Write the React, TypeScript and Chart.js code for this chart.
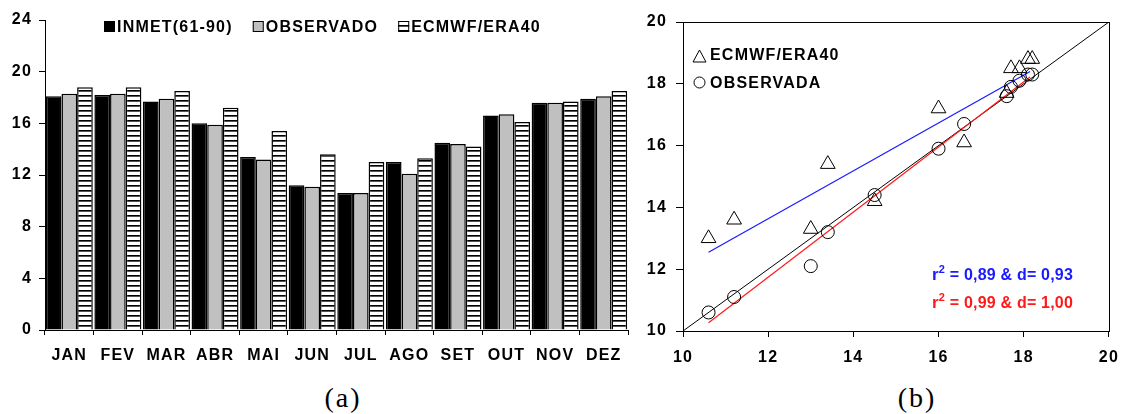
import React, { useEffect, useRef } from 'react';
import { Chart, registerables } from 'chart.js';

Chart.register(...registerables);

// ---------- data ----------
const MONTHS = ['JAN', 'FEV', 'MAR', 'ABR', 'MAI', 'JUN', 'JUL', 'AGO', 'SET', 'OUT', 'NOV', 'DEZ'];
const INMET = [18.1, 18.2, 17.7, 16.0, 13.4, 11.2, 10.6, 13.0, 14.5, 16.6, 17.6, 17.9];
const OBSERVADO = [18.3, 18.3, 17.9, 15.9, 13.2, 11.1, 10.6, 12.1, 14.4, 16.7, 17.6, 18.1];
const ERA40 = [18.8, 18.8, 18.5, 17.2, 15.4, 13.6, 13.0, 13.3, 14.2, 16.1, 17.7, 18.5];

const BAR_NAMES = ['INMET(61-90)', 'OBSERVADO', 'ECMWF/ERA40'];
const SCATTER_NAMES = ['ECMWF/ERA40', 'OBSERVADA'];

const BAR_Y_MIN = 0;
const BAR_Y_MAX = 24;
const BAR_Y_STEP = 4;
const SC_MIN = 10;
const SC_MAX = 20;
const SC_STEP = 2;

const FIT_ERA_X = [10.6, 18.15];
const FIT_ERA_Y = [12.55, 18.4];
const FIT_OBS_X = [10.6, 18.15];
const FIT_OBS_Y = [10.27, 18.22];
const IDENTITY = [10, 20];

const STAT_ERA = ['0,89', '0,93'];
const STAT_OBS = ['0,99', '1,00'];
const PANEL_LABELS = ['(a)', '(b)'];

// ---------- styles ----------
const FONT = "'Liberation Sans', Arial, Helvetica, sans-serif";
const GRAY = '#c0c0c0';
const BLUE = '#1a1aff';
const RED = '#ff1a1a';

function makeHatch(): CanvasPattern | string {
  const c = document.createElement('canvas');
  c.width = 4;
  c.height = 5;
  const g = c.getContext('2d');
  if (!g) return '#fff';
  g.fillStyle = '#fff';
  g.fillRect(0, 0, 4, 5);
  g.fillStyle = '#000';
  g.fillRect(0, 0, 4, 1);
  g.fillStyle = '#555';
  g.fillRect(0, 1, 4, 1);
  const p = g.createPattern(c, 'repeat');
  return p || '#fff';
}

const spacingPlugin = (px: number) => ({
  id: 'spacing',
  beforeUpdate(chart: any) {
    chart.ctx.letterSpacing = px + 'px';
  },
  beforeDraw(chart: any) {
    chart.ctx.letterSpacing = px + 'px';
  },
});

const tickFont = { family: FONT, size: 16, weight: 'bold' as const };

export default function App() {
  const refA = useRef<HTMLCanvasElement>(null);
  const refB = useRef<HTMLCanvasElement>(null);

  useEffect(() => {
    const hatch = makeHatch();

    const legendA = {
      id: 'legendA',
      afterDraw(chart: any) {
        const ctx = chart.ctx;
        ctx.save();
        ctx.letterSpacing = '1.2px';
        ctx.font = `bold 16px ${FONT}`;
        ctx.textBaseline = 'alphabetic';
        let x = 104;
        chart.data.datasets.forEach((ds: any) => {
          ctx.fillStyle = ds.backgroundColor;
          ctx.fillRect(x, 21, 11, 11);
          ctx.strokeStyle = '#000';
          ctx.lineWidth = 1;
          ctx.strokeRect(x + 0.5, 21.5, 10, 10);
          ctx.fillStyle = '#000';
          ctx.fillText(ds.label, x + 13, 32);
          x += 13 + ctx.measureText(ds.label).width + 20;
        });
        ctx.restore();
      },
    };

    const chartA = new Chart(refA.current!, {
      type: 'bar',
      data: {
        labels: MONTHS,
        datasets: [
          { label: BAR_NAMES[0], data: INMET, backgroundColor: '#000', borderColor: '#000', borderWidth: 1.5 },
          { label: BAR_NAMES[1], data: OBSERVADO, backgroundColor: GRAY, borderColor: '#000', borderWidth: 1.5 },
          { label: BAR_NAMES[2], data: ERA40, backgroundColor: hatch as any, borderColor: '#000', borderWidth: 1.5 },
        ],
      },
      options: {
        animation: false,
        responsive: false,
        events: [],
        layout: { padding: { left: 0, top: 20, right: 17, bottom: 0 } },
        datasets: { bar: { categoryPercentage: 0.967, barPercentage: 1 } } as any,
        plugins: { legend: { display: false }, tooltip: { enabled: false } },
        scales: {
          x: {
            grid: { display: true, drawOnChartArea: false, drawTicks: true, tickLength: 5, color: '#000', offset: true },
            border: { display: true, color: '#000', width: 1 },
            ticks: { color: '#000', font: tickFont, padding: 11, autoSkip: false, maxRotation: 0 },
            afterFit: (s: any) => { s.height = 50; },
          },
          y: {
            min: BAR_Y_MIN,
            max: BAR_Y_MAX,
            grid: { display: true, drawOnChartArea: false, drawTicks: true, tickLength: 6, color: '#000' },
            border: { display: true, color: '#000', width: 1 },
            ticks: { stepSize: BAR_Y_STEP, color: '#000', font: tickFont, padding: 7 },
            afterFit: (s: any) => { s.width = 45; },
          },
        },
      },
      plugins: [spacingPlugin(1.2), legendA],
    });

    const boxPlugin = {
      id: 'box',
      afterDraw(chart: any) {
        const { left, top, right, bottom } = chart.chartArea;
        const ctx = chart.ctx;
        ctx.save();
        ctx.strokeStyle = '#000';
        ctx.lineWidth = 1;
        ctx.strokeRect(Math.round(left) + 0.5, Math.round(top) + 0.5, Math.round(right - left), Math.round(bottom - top));
        ctx.restore();
      },
    };

    const legendB = {
      id: 'legendB',
      afterDraw(chart: any) {
        const { left, top } = chart.chartArea;
        const ctx = chart.ctx;
        ctx.save();
        ctx.strokeStyle = '#000';
        ctx.lineWidth = 1;
        const tx = left + 16.5;
        const ty = top + 34;
        ctx.beginPath();
        ctx.moveTo(tx, ty - 6);
        ctx.lineTo(tx + 6.5, ty + 6);
        ctx.lineTo(tx - 6.5, ty + 6);
        ctx.closePath();
        ctx.stroke();
        ctx.beginPath();
        ctx.arc(tx, top + 60.5, 5.5, 0, Math.PI * 2);
        ctx.stroke();
        ctx.letterSpacing = '1.2px';
        ctx.font = `bold 16px ${FONT}`;
        ctx.fillStyle = '#000';
        ctx.textBaseline = 'alphabetic';
        ctx.fillText(SCATTER_NAMES[0], left + 27, top + 38);
        ctx.fillText(SCATTER_NAMES[1], left + 27, top + 66);
        ctx.restore();
      },
    };

    const statsPlugin = {
      id: 'stats',
      afterDraw(chart: any) {
        const ctx = chart.ctx;
        const left = chart.chartArea.left;
        const top = chart.chartArea.top;
        const lines = [
          { color: BLUE, v: STAT_ERA, base: top + 258 },
          { color: RED, v: STAT_OBS, base: top + 285.5 },
        ];
        ctx.save();
        ctx.letterSpacing = '0.2px';
        ctx.textBaseline = 'alphabetic';
        lines.forEach((l) => {
          let x = left + 249;
          ctx.fillStyle = l.color;
          ctx.font = `bold 17px ${FONT}`;
          ctx.fillText('r', x, l.base);
          x += ctx.measureText('r').width;
          ctx.font = `bold 11px ${FONT}`;
          ctx.fillText('2', x, l.base - 7);
          x += ctx.measureText('2').width;
          ctx.font = `bold 16px ${FONT}`;
          ctx.fillText(` = ${l.v[0]} & d= ${l.v[1]}`, x, l.base);
        });
        ctx.restore();
      },
    };

    const pts = (xs: number[], ys: number[]) => xs.map((x, i) => ({ x, y: ys[i] }));

    const chartB = new Chart(refB.current!, {
      type: 'scatter',
      data: {
        datasets: [
          {
            label: SCATTER_NAMES[0],
            data: pts(INMET, ERA40),
            pointStyle: 'triangle',
            pointRadius: 8.5,
            borderColor: '#000',
            backgroundColor: 'rgba(0,0,0,0)',
            borderWidth: 1,
          },
          {
            label: SCATTER_NAMES[1],
            data: pts(INMET, OBSERVADO),
            pointStyle: 'circle',
            pointRadius: 6.5,
            borderColor: '#000',
            backgroundColor: 'rgba(0,0,0,0)',
            borderWidth: 1,
          },
          {
            label: 'fit-era',
            data: pts(FIT_ERA_X, FIT_ERA_Y),
            showLine: true,
            pointRadius: 0,
            borderColor: BLUE,
            borderWidth: 1.2,
          },
          {
            label: 'fit-obs',
            data: pts(FIT_OBS_X, FIT_OBS_Y),
            showLine: true,
            pointRadius: 0,
            borderColor: RED,
            borderWidth: 1.2,
          },
          {
            label: '1:1',
            data: pts(IDENTITY, IDENTITY),
            showLine: true,
            pointRadius: 0,
            borderColor: '#000',
            borderWidth: 1,
          },
        ],
      },
      options: {
        animation: false,
        responsive: false,
        events: [],
        layout: { padding: { left: 0, top: 22, right: 12, bottom: 0 } },
        plugins: { legend: { display: false }, tooltip: { enabled: false } },
        scales: {
          x: {
            type: 'linear',
            min: SC_MIN,
            max: SC_MAX,
            grid: { display: true, drawOnChartArea: false, drawTicks: true, tickLength: 6, color: '#000' },
            border: { display: true, color: '#000', width: 1 },
            ticks: { stepSize: SC_STEP, color: '#000', font: tickFont, padding: 11 },
            afterFit: (s: any) => { s.height = 49; },
          },
          y: {
            type: 'linear',
            min: SC_MIN,
            max: SC_MAX,
            grid: { display: true, drawOnChartArea: false, drawTicks: true, tickLength: 7, color: '#000' },
            border: { display: true, color: '#000', width: 1 },
            ticks: { stepSize: SC_STEP, color: '#000', font: tickFont, padding: 9 },
            afterFit: (s: any) => { s.width = 43; },
          },
        },
      },
      plugins: [spacingPlugin(1.2), boxPlugin, legendB, statsPlugin],
    });

    return () => {
      chartA.destroy();
      chartB.destroy();
    };
  }, []);

  const captionStyle = (cx: number): React.CSSProperties => ({
    position: 'absolute',
    left: cx - 60,
    width: 120,
    top: 382,
    textAlign: 'center',
    fontFamily: "'Liberation Serif', 'Times New Roman', serif",
    fontSize: 28,
    lineHeight: '32px',
    letterSpacing: '2px',
    color: '#000',
  });

  return (
    <div style={{ position: 'fixed', left: 0, top: 0, width: 1121, height: 414, background: '#fff', overflow: 'hidden' }}>
      <canvas ref={refA} width={645} height={380} style={{ position: 'absolute', left: 0, top: 0, width: 645, height: 380 }} />
      <canvas ref={refB} width={490} height={380} style={{ position: 'absolute', left: 640, top: 0, width: 490, height: 380 }} />
      <div style={captionStyle(343)}>{PANEL_LABELS[0]}</div>
      <div style={captionStyle(917)}>{PANEL_LABELS[1]}</div>
    </div>
  );
}
